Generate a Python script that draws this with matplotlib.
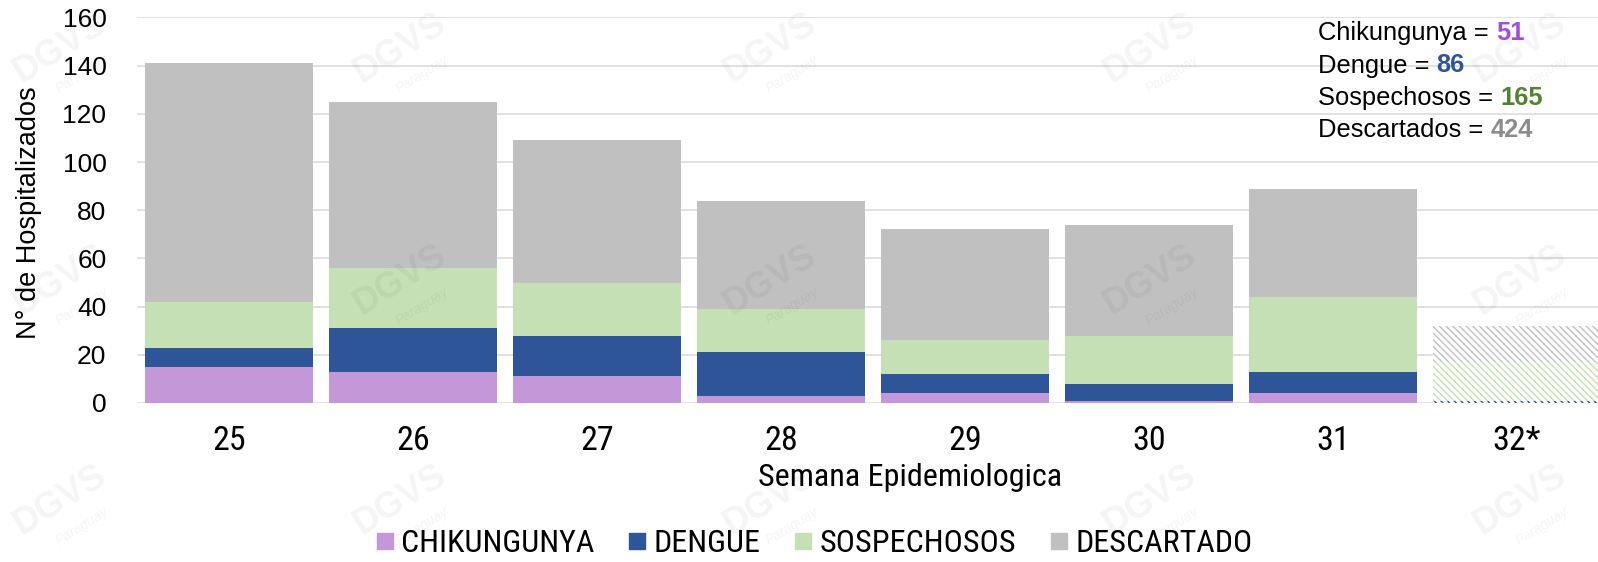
import matplotlib
matplotlib.use("Agg")
import os
import matplotlib.pyplot as plt
import numpy as np
from matplotlib import font_manager
from matplotlib.lines import Line2D

# weekly hospitalised cases (epidemiological weeks 25-32, last one provisional)
weeks = ["25", "26", "27", "28", "29", "30", "31", "32*"]
chikungunya = [15, 13, 11, 3, 4, 1, 4, 0]
dengue = [8, 18, 17, 18, 8, 7, 9, 1]
sospechosos = [19, 25, 22, 18, 14, 20, 31, 16]
descartado = [99, 69, 59, 45, 46, 46, 45, 15]

series_names = ["CHIKUNGUNYA", "DENGUE", "SOSPECHOSOS", "DESCARTADO"]
total_labels = ["Chikungunya = ", "Dengue = ", "Sospechosos = ", "Descartados = "]
total_values = [sum(chikungunya), sum(dengue), sum(sospechosos), sum(descartado)]

colors = ["#C497D8", "#2E5597", "#C5E0B4", "#C0C0C0"]
total_colors = ["#9E4FE3", "#2F5597", "#548235", "#8C8C8C"]

REGULAR = ["Liberation Sans", "DejaVu Sans"]


def find_narrow():
    """Look for an installed condensed sans font file, return its path or None."""
    prefs = ["LiberationSansNarrow-Regular", "RobotoCondensed-Regular", "Roboto_Condensed-Regular",
             "DejaVuSansCondensed.", "OpenSans_Condensed-Regular", "OpenSansCondensed",
             "NotoSans-Condensed.", "NotoSansCondensed-Regular"]
    files = [f.fname for f in font_manager.fontManager.ttflist]
    for p in prefs:
        for f in files:
            if p.lower() in os.path.basename(f).lower():
                return f
    for f in files:
        b = os.path.basename(f).lower()
        if ("narrow" in b or "condensed" in b) and "bold" not in b and "italic" not in b \
                and "semi" not in b and "extra" not in b and "light" not in b:
            return f
    return None


narrow_file = find_narrow()


def nfont(size):
    if narrow_file:
        return font_manager.FontProperties(fname=narrow_file, size=size)
    return font_manager.FontProperties(family=REGULAR, size=size * 0.85)


plt.rcParams["hatch.linewidth"] = 1.0

fig = plt.figure(figsize=(15.98, 5.62), dpi=100)
ax = fig.add_axes([137 / 1598, 1 - 403 / 562, 1 - 137 / 1598, (403 - 17.4) / 562])

x = np.arange(len(weeks))
width = 0.91
n_final = len(weeks) - 1  # last week is provisional -> hatched

bottom = np.zeros(len(weeks))
for vals, col in zip([chikungunya, dengue, sospechosos, descartado], colors):
    vals = np.array(vals, dtype=float)
    ax.bar(x[:n_final], vals[:n_final], width, bottom=bottom[:n_final],
           color=col, linewidth=0, zorder=2)
    ax.bar(x[n_final:], vals[n_final:], width, bottom=bottom[n_final:],
           facecolor="white", edgecolor=col, hatch="\\" * 5, linewidth=0, zorder=2)
    bottom += vals

ax.set_xlim(-0.5, 7.44)
ax.set_ylim(0, 160)
ax.set_yticks(np.arange(0, 161, 20))
ax.set_xticks(x)
ax.set_xticklabels(weeks)
for lab in ax.get_xticklabels():
    lab.set_fontproperties(nfont(24.5))
for lab in ax.get_yticklabels():
    lab.set_family(REGULAR)
    lab.set_fontsize(19)
ax.tick_params(axis="x", length=0, pad=16)
ax.tick_params(axis="y", length=0, pad=22)
ax.grid(axis="y", color="#D9D9D9", linewidth=1.1, zorder=0)
ax.set_axisbelow(True)
for s in ax.spines.values():
    s.set_visible(False)
ax.set_facecolor("none")

fig.text(29 / 1598, 1 - 213 / 562, "N° de Hospitalizados", rotation=90,
         ha="center", va="center", family=REGULAR, fontsize=19.5)
fig.text(910 / 1598, 1 - 477 / 562, "Semana Epidemiologica",
         ha="center", va="center", fontproperties=nfont(23))

# totals box, top right
for i, (lab, val, col) in enumerate(zip(total_labels, total_values, total_colors)):
    t = fig.text(1318 / 1598, 1 - (33 + 32.5 * i) / 562, lab, ha="left", va="center",
                 family=REGULAR, fontsize=18.4)
    ax.annotate(str(val), xy=(1, 0.5), xycoords=t, ha="left", va="center",
                family=REGULAR, fontsize=18.4, fontweight="bold", color=col)

handles = [Line2D([], [], linestyle="none", marker="s", markersize=12,
                  markerfacecolor=c, markeredgecolor=c) for c in colors]
fig.legend(handles, series_names, loc="center", bbox_to_anchor=(813 / 1598, 1 - 544 / 562),
           ncol=4, frameon=False, prop=nfont(23),
           handlelength=0.7, handletextpad=0.15, columnspacing=1.0, borderpad=0)

# faint DGVS watermark
for yy in [48, 280, 500]:
    for xx in [60, 400, 770, 1150, 1520]:
        fig.text(xx / 1598, 1 - yy / 562, "DGVS", rotation=32, ha="center", va="center",
                 fontsize=26, fontweight="bold", family=REGULAR, color="#000000",
                 alpha=0.045, zorder=10)
        fig.text((xx + 22) / 1598, 1 - (yy + 26) / 562, "Paraguay", rotation=32,
                 ha="center", va="center", fontsize=10, style="italic",
                 family=REGULAR, color="#000000", alpha=0.045, zorder=10)

fig.savefig("out.png", dpi=100)
